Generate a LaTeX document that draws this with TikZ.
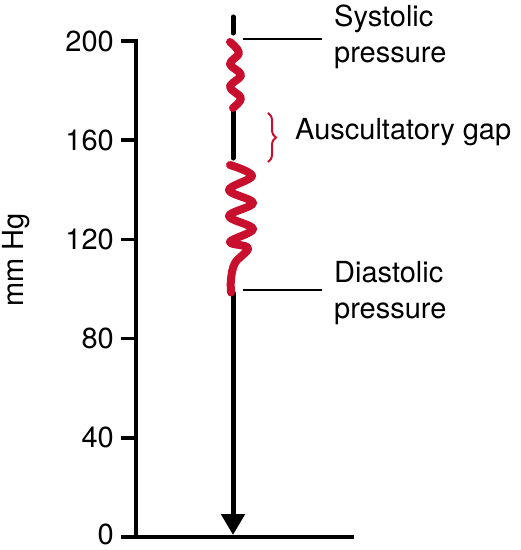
\documentclass[tikz,border=0pt]{standalone}
\usepackage{fontspec}
\setmainfont{TeX Gyre Heros}
\usetikzlibrary{arrows.meta, decorations.pathreplacing}
\definecolor{bpred}{RGB}{200,16,46}

\begin{document}
\begin{tikzpicture}[
  >=Stealth, x=1pt, y=2.48pt,
  lbl/.style={font=\fontsize{29}{36}\selectfont, inner sep=0pt},
  axis/.style={line width=4.5pt, line join=miter},
  axtick/.style={line width=3.5pt},
  cuff/.style={line width=5pt, line cap=round},
  korot/.style={bpred, line width=8pt, line cap=round, line join=round},
  leader/.style={line width=1.5pt},
  gapbrace/.style={bpred, line width=2pt, decorate,
                   decoration={brace, amplitude=8pt}}
]
\useasboundingbox (-136,-5.24) rectangle (384,216.53);

\def\xc{97}

% scale
\draw[axis] (-15,200) -- (0,200) -- (0,0);
\draw[axis] (-15,0) -- (218,0);
\foreach \v in {40,80,...,160}{
  \draw[axtick] (-15,\v) -- (0,\v);
}
\foreach \v/\dy in {0/3,40/0,80/0,120/0,160/0,200/0}{
  \node[lbl, anchor=east, yshift=\dy pt](t\v) at (-22,\v) {\v};
}
\node[lbl, rotate=90](unit) at (-120,111.7) {mm Hg};

% cuff deflation line
\coordinate (c0) at (\xc,209.7);
\coordinate (c1) at (\xc,203.2);
\coordinate (c2) at (\xc,172.2);
\coordinate (c3) at (\xc,152.8);
\coordinate (c4) at (\xc,98.4);
\coordinate (c5) at (\xc,0.8);
\draw[cuff] (c0) -- (c1);
\draw[cuff] (c2) -- (c3);
\draw[cuff, -{Triangle[width=23pt,length=21pt]}] (c4) -- (c5);

% Korotkoff sounds
\draw[korot] plot[smooth, tension=0.6] coordinates {
  (94,199.6) (103,195.2) (94,190.7) (105,186.3)
  (94,181.5) (105,177.0) (97,173.0)};
\draw[korot] plot[smooth, tension=0.6] coordinates {
  (94,150.0) (116,145.6) (93,139.9) (117,134.7) (93,129.4)
  (117,124.2) (94,119.0) (112,116.5) (99,110.5) (95,104.0) (95,98.6)};

% labels
\node[lbl, anchor=west, align=left](sys) at (198,201.6) {Systolic\\pressure};
\node[lbl, anchor=west, align=left](dia) at (198,98.4) {Diastolic\\pressure};
\node[lbl, anchor=west](gap) at (159,163.1) {Auscultatory gap};

\coordinate (sysL) at (107,200.8);
\coordinate (diaL) at (107,99.6);
\draw[leader, shorten >=12pt] (sysL) -- (sysL -| sys.west);
\draw[leader, shorten >=12pt] (diaL) -- (diaL -| dia.west);

\coordinate (gtop) at (132,171.0);
\coordinate (gbot) at (132,151.2);
\draw[gapbrace] (gtop) -- (gbot);

\end{tikzpicture}
\end{document}
